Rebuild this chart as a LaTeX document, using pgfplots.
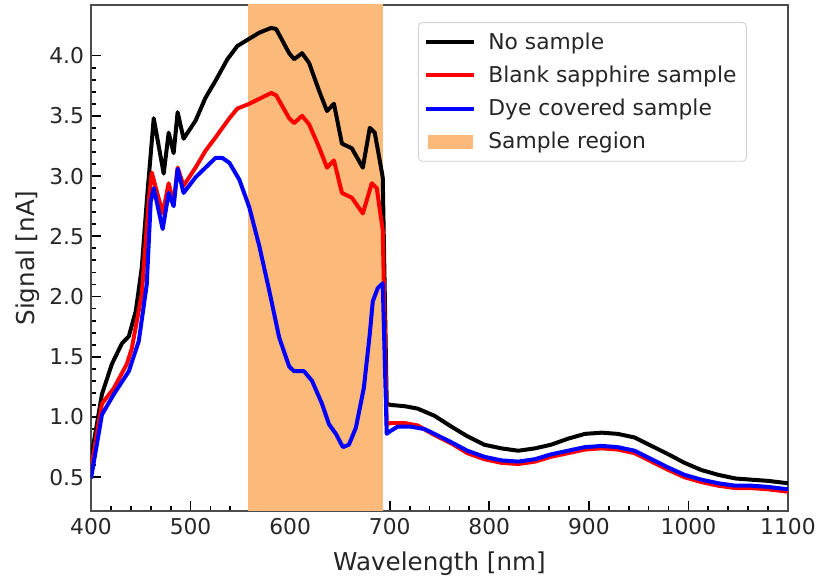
\documentclass[border=0pt]{standalone}
\usepackage{fontspec}
\setmainfont{DejaVu Sans}
\usepackage{pgfplots}
\pgfplotsset{compat=1.18}
\definecolor{region}{RGB}{251,186,122}
\definecolor{txt}{RGB}{38,38,38}
\begin{document}
\begin{tikzpicture}
\path[use as bounding box] (-45.5pt,-32.5pt) rectangle (365pt,255.5pt);
\begin{axis}[
  at={(0pt,0pt)}, anchor=south west,
  scale only axis, width=348.5pt, height=253pt,
  xmin=400, xmax=1100, ymin=0.22, ymax=4.42,
  xtick={400,500,600,700,800,900,1000,1100},
  ytick={0.5,1.0,1.5,2.0,2.5,3.0,3.5,4.0},
  minor x tick num=4, minor y tick num=4,
  tick align=inside, xtick pos=bottom, ytick pos=left,
  major tick length=5pt, minor tick length=2.5pt,
  every tick/.style={black, line width=0.9pt},
  axis line style={black!70, line width=0.7pt},
  /pgf/number format/assume math mode=true,
  x tick label style={/pgf/number format/1000 sep={}},
  y tick label style={/pgf/number format/.cd, fixed, fixed zerofill, precision=1},
  ticklabel style={font=\fontsize{10.9}{13}\selectfont, text=txt},
  label style={font=\fontsize{12.3}{14}\selectfont, text=txt},
  xlabel={Wavelength [nm]}, ylabel={Signal [nA]},
  xlabel style={yshift=-2pt}, ylabel style={yshift=-2pt},
  legend style={at={(rel axis cs:0.941,0.966)}, anchor=north east,
    draw=black!18, rounded corners=2pt, fill=white, fill opacity=0.8, text opacity=1,
    font=\fontsize{10.9}{13}\selectfont, text=txt,
    inner xsep=3pt, inner ysep=3pt, row sep=2.75pt,
    /tikz/every odd column/.append style={column sep=4pt}},
  legend cell align=left,
  legend image code/.code={\draw[#1, line width=2pt, sharp corners] (0pt,0pt) -- (24pt,0pt);},
]
\addplot[fill=region, draw=none, forget plot] coordinates {(558,0) (558,5) (693,5) (693,0)} -- cycle;
\addplot[black, line width=2pt, line join=round] coordinates {
(400,0.65) (411,1.19) (421,1.44) (431,1.61) (438,1.67) (445,1.88) (451,2.24) (456,2.79)
(463,3.48) (473,3.02) (478,3.36) (483,3.19) (487,3.53) (493,3.31) (505,3.46) (515,3.65)
(525,3.79) (537,3.97) (547,4.08) (559,4.14) (569,4.19) (581,4.23) (586,4.22) (599,4.02)
(604,3.97) (612,4.02) (619,3.94) (629,3.71) (637,3.54) (644,3.60) (652,3.27) (662,3.23)
(673,3.07) (680,3.40) (685,3.36) (693,2.99) (697,1.11) (701,1.10) (715,1.09) (728,1.07)
(745,1.01) (762,0.92) (778,0.84) (795,0.77) (812,0.74) (829,0.72) (846,0.74) (862,0.77)
(879,0.82) (896,0.86) (913,0.87) (929,0.86) (946,0.83) (963,0.76) (980,0.69) (996,0.62)
(1013,0.56) (1030,0.52) (1047,0.49) (1063,0.48) (1080,0.47) (1100,0.45)};
\addlegendentry{No sample}
\addplot[red, line width=2pt, line join=round] coordinates {
(400,0.57) (411,1.11) (423,1.24) (436,1.44) (441,1.57) (451,2.02) (458,2.79) (461,3.03)
(472,2.69) (478,2.94) (483,2.77) (487,3.07) (493,2.92) (505,3.07) (515,3.21) (525,3.32)
(539,3.48) (547,3.56) (559,3.60) (581,3.69) (586,3.67) (599,3.48) (604,3.44) (612,3.50)
(619,3.43) (629,3.24) (637,3.07) (644,3.13) (652,2.86) (662,2.82) (673,2.69) (682,2.94)
(687,2.90) (693,2.55) (697,0.94) (701,0.95) (715,0.95) (728,0.93) (745,0.85) (762,0.78)
(778,0.70) (795,0.65) (812,0.62) (829,0.61) (846,0.63) (862,0.67) (879,0.70) (896,0.73)
(913,0.74) (929,0.73) (946,0.70) (963,0.63) (980,0.56) (996,0.50) (1013,0.46) (1030,0.43)
(1047,0.41) (1063,0.41) (1080,0.40) (1100,0.38)};
\addlegendentry{Blank sapphire sample}
\addplot[blue, line width=2pt, line join=round] coordinates {
(400,0.49) (411,1.02) (423,1.19) (438,1.38) (448,1.63) (456,2.10) (460,2.79) (463,2.90)
(472,2.56) (478,2.86) (483,2.75) (487,3.06) (493,2.86) (505,2.99) (515,3.07) (525,3.15)
(532,3.15) (539,3.11) (549,2.97) (559,2.74) (569,2.42) (579,2.05) (589,1.66) (599,1.42)
(604,1.38) (614,1.38) (622,1.30) (632,1.11) (639,0.94) (646,0.86) (653,0.75) (659,0.77)
(666,0.91) (674,1.24) (680,1.69) (683,1.96) (688,2.07) (693,2.11) (697,0.86) (700,0.88)
(708,0.92) (721,0.92) (735,0.90) (745,0.86) (762,0.79) (778,0.72) (795,0.67) (812,0.64)
(829,0.63) (846,0.65) (862,0.69) (879,0.72) (896,0.75) (913,0.76) (929,0.75) (946,0.72)
(963,0.65) (980,0.58) (996,0.52) (1013,0.48) (1030,0.45) (1047,0.43) (1063,0.43) (1080,0.42)
(1100,0.40)};
\addlegendentry{Dye covered sample}
\addlegendimage{legend image code/.code={\fill[region, fill opacity=1, sharp corners] (1pt,-3.3pt) rectangle (23pt,3.3pt);}}
\addlegendentry{Sample region}
\end{axis}
\end{tikzpicture}
\end{document}
